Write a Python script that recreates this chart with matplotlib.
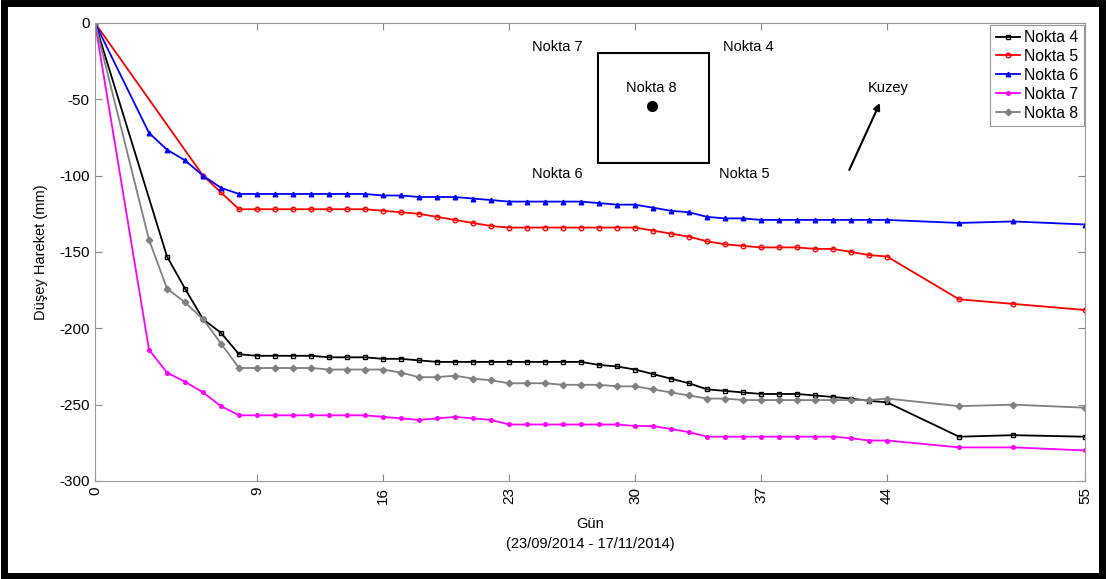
import matplotlib
matplotlib.use("Agg")
import matplotlib.pyplot as plt
from matplotlib.patches import Rectangle

plt.rcParams['font.family'] = ['Liberation Sans', 'DejaVu Sans']
plt.rcParams['axes.unicode_minus'] = False

days = [0, 3, 4, 5, 6, 7, 8, 9, 10, 11, 12, 13, 14, 15, 16, 17, 18, 19, 20, 21,
        22, 23, 24, 25, 26, 27, 28, 29, 30, 31, 32, 33, 34, 35, 36, 37, 38, 39,
        40, 41, 42, 43, 44, 48, 51, 55]

nokta4 = [0, None, -153, -174, -194, -203, -217, -218, -218, -218, -218, -219, -219, -219,
          -220, -220, -221, -222, -222, -222, -222, -222, -222, -222, -222, -222,
          -224, -225, -227, -230, -233, -236, -240, -241, -242, -243, -243, -243,
          -244, -245, -246, -247.5, -248.5, -271, -270, -271]
nokta5 = [0, None, None, None, -100, -111, -122, -122, -122, -122, -122, -122, -122, -122,
          -123, -124, -125, -127, -129, -131, -133, -134, -134, -134, -134, -134,
          -134, -134, -134, -136, -138, -140, -143, -145, -146, -147, -147, -147,
          -148, -148, -150, -152, -153, -181, -184, -188]
nokta6 = [0, -72, -83, -90, -100, -108, -112, -112, -112, -112, -112, -112, -112, -112,
          -113, -113, -114, -114, -114, -115, -116, -117, -117, -117, -117, -117,
          -118, -119, -119, -121, -123, -124, -127, -128, -128, -129, -129, -129,
          -129, -129, -129, -129, -129, -131, -130, -132]
nokta7 = [0, -214, -229, -235, -242, -251, -257, -257, -257, -257, -257, -257, -257, -257,
          -258, -259, -260, -259, -258, -259, -260, -263, -263, -263, -263, -263,
          -263, -263, -264, -264, -266, -268, -271, -271, -271, -271, -271, -271,
          -271, -271, -272, -273.5, -273.5, -278, -278, -280]
nokta8 = [0, -142, -174, -183, -194, -210, -226, -226, -226, -226, -226, -227, -227, -227,
          -227, -229, -232, -232, -231, -233, -234, -236, -236, -236, -237, -237,
          -237, -238, -238, -240, -242, -244, -246, -246, -247, -247, -247, -247,
          -247, -247, -247, -247, -246, -251, -250, -252]

series = [
    ("Nokta 4", nokta4, "black", "s", "none"),
    ("Nokta 5", nokta5, "red", "o", "none"),
    ("Nokta 6", nokta6, "blue", "^", "blue"),
    ("Nokta 7", nokta7, "magenta", "o", "magenta"),
    ("Nokta 8", nokta8, "gray", "D", "gray"),
]

xticks = [0, 9, 16, 23, 30, 37, 44, 55]
yticks = [0, -50, -100, -150, -200, -250, -300]

fig = plt.figure(figsize=(11.06, 5.79), dpi=100)
ax = fig.add_axes([0.0859, 0.1693, 0.8952, 0.7910])

for name, vals, col, mk, mfc in series:
    xs = [d for d, v in zip(days, vals) if v is not None]
    ys = [v for v in vals if v is not None]
    ms = 2.6 if name == "Nokta 7" else 3.3
    ax.plot(xs, ys, color=col, marker=mk, markersize=ms, markerfacecolor=mfc,
            markeredgecolor=col, markeredgewidth=1.0, linewidth=1.3, label=name)

ax.set_xlim(0, 55)
ax.set_ylim(-300, 0)
ax.set_xticks(xticks)
ax.set_xticklabels([str(t) for t in xticks], rotation=90)
ax.set_yticks(yticks)
ax.tick_params(direction='in', top=True, right=True, length=5, color='#888888',
               labelsize=11, pad=4)
for s in ax.spines.values():
    s.set_color('#999999')
    s.set_linewidth(0.8)

ax.set_ylabel("Düşey Hareket (mm)", fontsize=10.5, labelpad=8)
ax.set_xlabel("Gün\n(23/09/2014 - 17/11/2014)", fontsize=10.5, labelpad=10,
              linespacing=1.5)

leg = ax.legend(loc='upper right', fontsize=11.3, fancybox=False, framealpha=1,
                edgecolor='#999999', borderaxespad=0.1, handlelength=1.55,
                handletextpad=0.25, borderpad=0.35, labelspacing=0.25)
leg.get_frame().set_linewidth(0.8)

# Schematic annotation
ax.add_patch(Rectangle((27.94, -91.7), 6.16, 72.1, fill=False, edgecolor='black',
                       linewidth=1.5))
ax.plot([30.94], [-54.4], 'o', color='black', markersize=7)
ax.text(25.7, -15.7, "Nokta 7", ha='center', va='center', fontsize=10.5)
ax.text(36.3, -15.7, "Nokta 4", ha='center', va='center', fontsize=10.5)
ax.text(30.9, -42.6, "Nokta 8", ha='center', va='center', fontsize=10.5)
ax.text(25.7, -98.9, "Nokta 6", ha='center', va='center', fontsize=10.5)
ax.text(36.05, -98.9, "Nokta 5", ha='center', va='center', fontsize=10.5)
ax.text(44.05, -42.6, "Kuzey", ha='center', va='center', fontsize=10.5)
ax.annotate("", xy=(43.6, -52.4), xytext=(41.9, -96.3),
            arrowprops=dict(arrowstyle='-|>', color='black', lw=1.5,
                            mutation_scale=10, shrinkA=0, shrinkB=0))

# Outer figure border
fig.patches.append(Rectangle((0.004, 0.006), 0.992, 0.988, transform=fig.transFigure,
                             fill=False, edgecolor='black', linewidth=5))

fig.savefig("out.png", dpi=100)
